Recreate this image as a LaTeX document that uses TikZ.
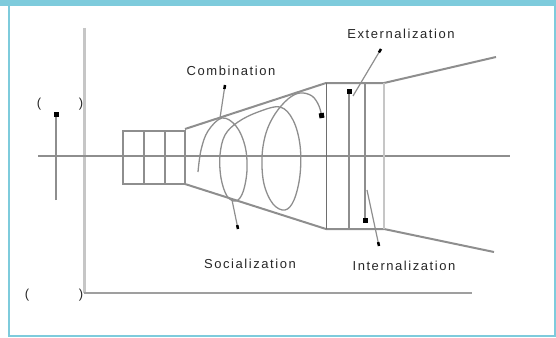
\documentclass[tikz,border=0pt]{standalone}
\usepackage{fontspec}
\setmainfont{Liberation Sans}
\usetikzlibrary{arrows.meta, calc}

\definecolor{frameblue}{HTML}{7ECBDC}
\definecolor{linegray}{HTML}{8E8E8E}
\definecolor{darkline}{HTML}{6E6E6E}
\definecolor{palegray}{HTML}{C6C6C6}

\begin{document}
\begin{tikzpicture}[
  x=1pt, y=-1pt,
  every node/.style={inner sep=0pt, text=black!85},
  % Node styles
  label/.style  = {font=\fontsize{13}{15}\selectfont\addfontfeatures{LetterSpace=12}},
  paren/.style  = {font=\fontsize{13}{15}\selectfont},
  cell/.style   = {rectangle, draw=linegray, line width=2pt,
                   minimum width=62pt, minimum height=53pt},
  % Line styles
  wall/.style   = {draw=palegray, line width=3pt},
  floor/.style  = {draw=linegray!85, line width=2.5pt},
  axisline/.style = {draw=linegray, line width=1.5pt},
  funnel/.style = {draw=linegray, line width=2pt},
  coil/.style   = {draw=linegray, line width=1.3pt},
  pin/.style    = {-{Square[length=5pt,width=5pt,color=black]}},
  tick/.style   = {-{Square[length=4pt,width=2.5pt,color=black]},
                   draw=linegray, line width=1.2pt}
]
\useasboundingbox (0,0) rectangle (556,337);

% =========================== FRAME ===========================
\fill[frameblue] (0,0) rectangle (556,6);
\draw[frameblue, line width=2pt] (9,6) -- (9,335.5) -- (555,335.5) -- (555,6);

% =========================== AXES ===========================
\coordinate (yTop) at (84,28);
\coordinate (org)  at (84,293);
\coordinate (xEnd) at (472,293);
\draw[wall]  (yTop) -- (org);
\draw[floor] (org) -- (xEnd);

\coordinate (midL) at (38,156);
\coordinate (midR) at (510,156);
\draw[axisline] (midL) -- (midR);

% level marker on the left
\coordinate (lvB) at (56,200);
\coordinate (lvT) at (56,112);
\draw[axisline, pin] (lvB) -- (lvT);

\node[paren] (pa1) at (39,104) {(};
\node[paren] (pb1) at (81,104) {)};
\node[paren] (pa2) at (27,295) {(};
\node[paren] (pb2) at (81,295) {)};

% =========================== FUNNEL ===========================
\node[cell] (box) at (154,157.5) {};
\draw[axisline] ($(box.north west)+(22,0)$) -- ($(box.south west)+(22,0)$);
\draw[axisline] ($(box.north west)+(43,0)$) -- ($(box.south west)+(43,0)$);

\coordinate (gTL) at (326,83);
\coordinate (gTR) at (384,83);
\coordinate (gBL) at (326,229);
\coordinate (gBR) at (384,229);
\coordinate (oT)  at (496,57);
\coordinate (oB)  at (494,252);

\draw[funnel] (185,129) -- (gTL) -- (gTR) -- (oT);
\draw[funnel] (185,184) -- (gBL) -- (gBR) -- (oB);

% gate: four verticals
\draw[draw=darkline, line width=1pt] (gTL) -- (gBL);
\draw[axisline, line width=2pt, pin] (349,229) -- (349,89);
\draw[axisline, pin] (365,83) -- (365,223);
\draw[draw=palegray, line width=2.5pt] (gTR) -- (gBR);

% =========================== COIL ===========================
\draw[coil, pin] plot[smooth, tension=0.6] coordinates {
  (198,172) (201,150) (208,131) (222,118) (236,126) (245,146) (247,170)
  (243,192) (236,201) (227,196) (221,178) (220,155) (225,135) (238,122)
  (258,112) (280,107) (293,120) (300,145) (300,175) (294,200) (285,210)
  (273,204) (264,184) (262,157) (266,133) (275,114) (288,99) (300,93)
  (312,96) (319,106) (322,118)};

% =========================== POINTERS ===========================
\coordinate (cmbA) at (220,118);  \coordinate (cmbB) at (225,85);
\coordinate (socA) at (232,200);  \coordinate (socB) at (238,229);
\coordinate (extA) at (353,96);   \coordinate (extB) at (381,49);
\coordinate (intA) at (367,190);  \coordinate (intB) at (379,246);
\draw[tick] (cmbA) -- (cmbB);
\draw[tick] (socA) -- (socB);
\draw[tick] (extA) -- (extB);
\draw[tick] (intA) -- (intB);

\node[label] (ext) at (401,34)  {Externalization};
\node[label] (cmb) at (231,71)  {Combination};
\node[label] (soc) at (250,264) {Socialization};
\node[label] (int) at (404,266) {Internalization};

\end{tikzpicture}
\end{document}
